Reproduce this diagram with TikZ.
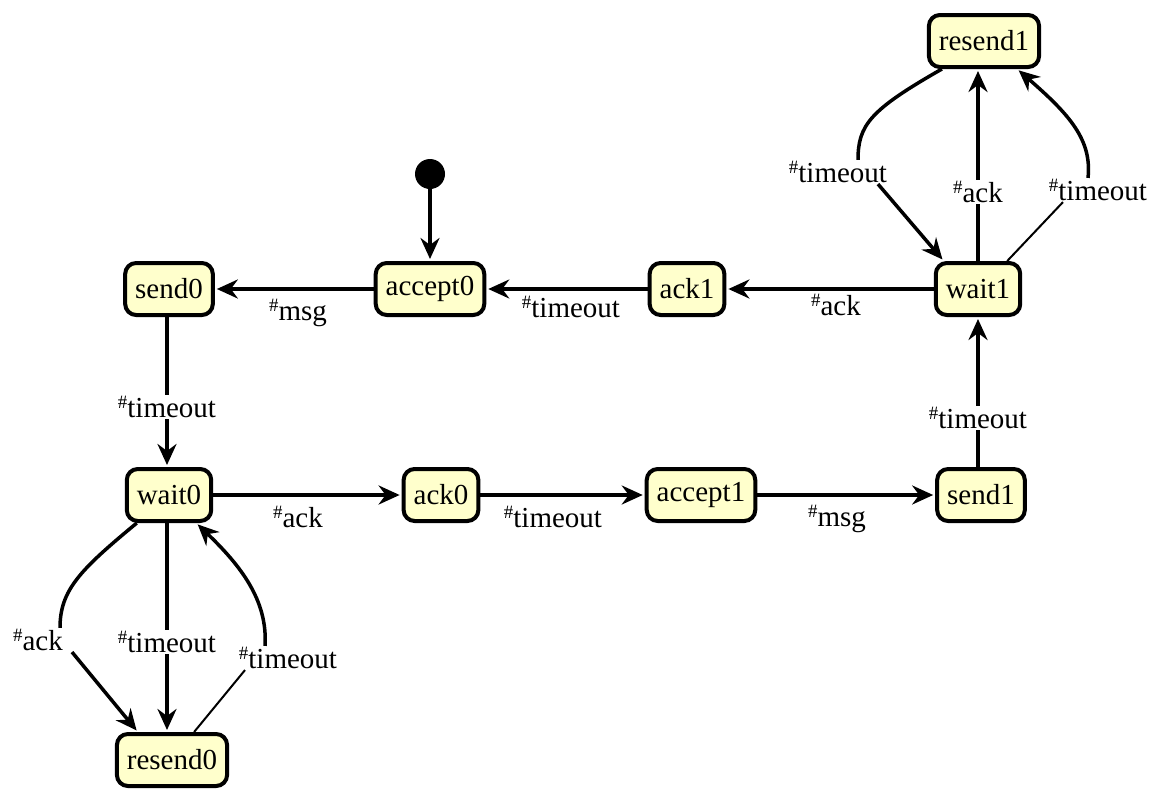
\documentclass[tikz,border=0pt]{standalone}
\usepackage{fontspec}
\usepackage{graphicx}
\setmainfont{Liberation Serif}
\usetikzlibrary{arrows.meta,calc}
\definecolor{statefill}{HTML}{FFFFCC}
% small raised hash used in the transition labels
\newcommand\hs{\raisebox{0.28em}{\scalebox{0.65}{\#}}}
\begin{document}
\begin{tikzpicture}[x=1pt,y=-1pt,
  state/.style={draw=black, line width=4pt, fill=statefill, rounded corners=11pt,
    minimum height=52pt, inner xsep=10pt, font=\fontsize{29}{32}\selectfont},
  lbl/.style={fill=white, inner sep=1.5pt, font=\fontsize{29}{32}\selectfont},
  link/.style={line width=3.5pt},
  thinlink/.style={line width=2pt},
  edge/.style={line width=3.5pt, -{Stealth[length=21pt,width=19pt,inset=7pt]}, shorten >=2pt}]
\useasboundingbox (0,0) rectangle (1165,790);

% states
\node[state] (send0)   at (169,289) {send0};
\node[state] (accept0) at (430,289) {accept0};
\node[state] (ack1)    at (687,289) {ack1};
\node[state] (wait1)   at (978,289) {wait1};
\node[state] (wait0)   at (169,495) {wait0};
\node[state] (ack0)    at (441,495) {ack0};
\node[state] (accept1) at (701,495) {accept1};
\node[state] (send1)   at (981,495) {send1};
\node[state] (resend1) at (984,41)  {resend1};
\node[state] (resend0) at (172,760) {resend0};
\node[circle, fill=black, minimum size=30pt, inner sep=0pt] (init) at (430,174) {};

% labels
\node[lbl] (lmsg0)  at (298,313) {\hs msg};
\node[lbl] (ltoA)   at (571,307) {\hs timeout};
\node[lbl] (lackA)  at (836,305) {\hs ack};
\node[lbl] (ltoS0)  at (167,407) {\hs timeout};
\node[lbl] (lackB)  at (298,517) {\hs ack};
\node[lbl] (ltoB)   at (553,517) {\hs timeout};
\node[lbl] (lmsg1)  at (837,519) {\hs msg};
\node[lbl] (ltoS1)  at (978,418) {\hs timeout};
\node[lbl] (lrt1)   at (838,172) {\hs timeout};
\node[lbl] (lra1)   at (978,192) {\hs ack};
\node[lbl] (lrt2)   at (1098,190) {\hs timeout};
\node[lbl] (lwa)    at (38,640)  {\hs ack};
\node[lbl] (lwt1)   at (167,642) {\hs timeout};
\node[lbl] (lwt2)   at (288,658) {\hs timeout};

% main cycle
\draw[edge] (init) -- (accept0);
\draw[edge] (accept0) -- (send0);
\draw[edge] (ack1) -- (accept0);
\draw[edge] (wait1) -- (ack1);
\draw[link] (send0.south -| ltoS0) -- (ltoS0.north);
\draw[edge] (ltoS0.south) -- (wait0.north -| ltoS0);
\draw[edge] (wait0) -- (ack0);
\draw[edge] (ack0) -- (accept1);
\draw[edge] (accept1) -- (send1);
\draw[link] (send1.north -| ltoS1) -- (ltoS1.south);
\draw[edge] (ltoS1.north) -- (wait1.south -| ltoS1);

% wait1 / resend1
\draw[link] ($(resend1.south west)+(15,0)$) .. controls (870,110) and (858,125) .. ($(lrt1.north)+(20,0)$);
\draw[edge] ($(lrt1.south)+(40,0)$) -- ($(wait1.north west)+(10,0)$);
\draw[link] (wait1.north -| lra1) -- (lra1.south);
\draw[edge] (lra1.north) -- (resend1.south -| lra1);
\draw[thinlink] ($(wait1.north east)+(-15,0)$) -- ($(lrt2.south)+(-35,0)$);
\draw[edge] ($(lrt2.north)+(-10,0)$) .. controls (1092,140) and (1070,115) .. ($(resend1.south east)+(-24,0)$);

% wait0 / resend0
\draw[link] ($(wait0.south west)+(12,0)$) .. controls (80,570) and (60,590) .. ($(lwa.north)+(22,0)$);
\draw[edge] ($(lwa.south)+(34,0)$) -- ($(resend0.north west)+(23,0)$);
\draw[link] (wait0.south -| lwt1) -- (lwt1.north);
\draw[edge] (lwt1.south) -- (resend0.north -| lwt1);
\draw[thinlink] ($(resend0.north east)+(-35,0)$) -- ($(lwt2.south)+(-43,0)$);
\draw[edge] ($(lwt2.north)+(-23,0)$) .. controls (268,600) and (240,565) .. ($(wait0.south east)+(-17,0)$);
\end{tikzpicture}
\end{document}
